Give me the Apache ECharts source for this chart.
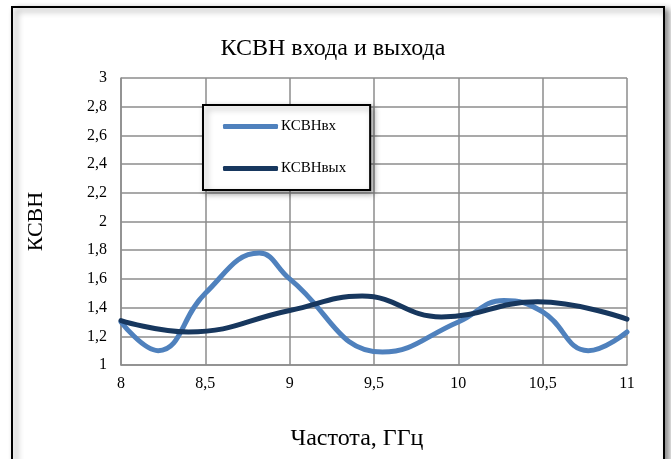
<!DOCTYPE html>
<html><head><meta charset="utf-8">
<script src="https://cdn.jsdelivr.net/npm/echarts@6/dist/echarts.min.js"></script>
<style>html,body{margin:0;padding:0;background:#fff}#c{width:671px;height:459px}</style>
</head><body><div id="c"></div>
<script>
var titleText = 'КСВН входа и выхода';
var xName = 'Частота, ГГц';
var yName = 'КСВН';
var seriesNames = ['КСВНвх', 'КСВНвых'];
var inFreq = [8, 8.22, 8.5, 8.82, 9, 9.55, 10, 10.27, 10.5, 10.77, 11];
var inVals = [1.3, 1.1, 1.5, 1.78, 1.6, 1.09, 1.3, 1.45, 1.37, 1.1, 1.23];
var outFreq = [8, 8.4, 9, 9.43, 9.9, 10.47, 11];
var outVals = [1.31, 1.23, 1.38, 1.48, 1.335, 1.44, 1.32];

function pairs(xs, ys) { return xs.map(function (x, i) { return [x, ys[i]]; }); }
var font = '"Liberation Serif", "DejaVu Serif", serif';
var chart = echarts.init(document.getElementById('c'));
chart.setOption({
  animation: false,
  backgroundColor: '#fff',
  graphic: [{
    type: 'rect', z: -1,
    shape: { x: 12, y: 7, width: 652, height: 470 },
    style: { fill: '#fff', stroke: '#000', lineWidth: 2,
      shadowColor: 'rgba(0,0,0,0.45)', shadowBlur: 6, shadowOffsetX: 4, shadowOffsetY: 3 }
  }],
  title: [{
    text: titleText, left: 328, top: 32, textAlign: 'center',
    textStyle: { fontFamily: font, fontSize: 24, fontWeight: 'normal', color: '#000' }
  }, {
    text: xName, left: 352, top: 422, textAlign: 'center',
    textStyle: { fontFamily: font, fontSize: 24, fontWeight: 'normal', color: '#000' }
  }],
  legend: {
    orient: 'vertical', left: 203, top: 105,
    padding: [14, 24, 14, 20],
    itemWidth: 55, itemHeight: 5, itemGap: 27,
    icon: 'roundRect',
    backgroundColor: '#fff', borderColor: '#000', borderWidth: 2,
    shadowColor: 'rgba(0,0,0,0.35)', shadowBlur: 6, shadowOffsetX: 3, shadowOffsetY: 3,
    textStyle: { fontFamily: font, fontSize: 15, color: '#000', padding: [0, 0, 0, -2] },
    data: seriesNames
  },
  grid: { left: 121, right: 44, top: 78, bottom: 94 },
  xAxis: {
    type: 'value', min: 8, max: 11, interval: 0.5,
    axisLine: { show: true, lineStyle: { color: '#8c8c8c', width: 1.5 } },
    axisTick: { show: false },
    splitLine: { show: true, lineStyle: { color: '#8c8c8c', width: 1.5 } },
    axisLabel: { fontFamily: font, fontSize: 16, color: '#000', margin: 11,
      formatter: function (v) { return String(v).replace('.', ','); } }
  },
  yAxis: {
    type: 'value', min: 1, max: 3, interval: 0.2,
    name: yName, nameLocation: 'middle', nameGap: 74, nameRotate: 90,
    nameTextStyle: { fontFamily: font, fontSize: 22, color: '#000' },
    axisLine: { show: true, lineStyle: { color: '#8c8c8c', width: 1.5 } },
    axisTick: { show: false },
    splitLine: { show: true, lineStyle: { color: '#8c8c8c', width: 1.5 } },
    axisLabel: { fontFamily: font, fontSize: 16, color: '#000', margin: 14,
      formatter: function (v) { return String(Math.round(v * 10) / 10).replace('.', ','); } }
  },
  series: [{
    name: seriesNames[0], type: 'line', smooth: 0.45, showSymbol: false,
    data: pairs(inFreq, inVals),
    lineStyle: { color: '#4f81bd', width: 5, cap: 'round' },
    itemStyle: { color: '#4f81bd' }
  }, {
    name: seriesNames[1], type: 'line', smooth: 0.45, showSymbol: false,
    data: pairs(outFreq, outVals),
    lineStyle: { color: '#17375e', width: 5, cap: 'round' },
    itemStyle: { color: '#17375e' }
  }]
});
</script></body></html>
